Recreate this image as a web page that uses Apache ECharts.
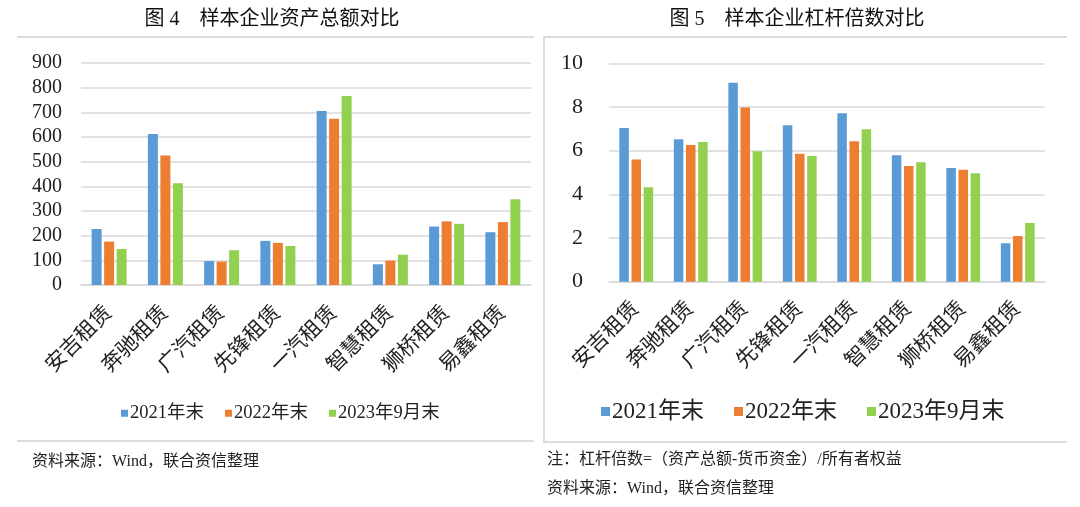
<!DOCTYPE html>
<html><head><meta charset="utf-8">
<script src="https://cdn.jsdelivr.net/npm/echarts@6/dist/echarts.min.js"></script>
<style>html,body{margin:0;padding:0;background:#fff}#c{width:1080px;height:507px}</style>
</head><body><div id="c"></div>
<script>
const categories = ['安吉租赁','奔驰租赁','广汽租赁','先锋租赁','一汽租赁','智慧租赁','狮桥租赁','易鑫租赁'];
const seriesNames = ['2021年末','2022年末','2023年9月末'];
const assets2021 = [227, 612, 97, 179, 705, 84, 237, 214];
const assets2022 = [176, 525, 95, 171, 674, 99, 258, 255];
const assets2023 = [146, 413, 141, 158, 766, 123, 248, 348];
const lev2021 = [7.04, 6.52, 9.11, 7.16, 7.71, 5.79, 5.21, 1.76];
const lev2022 = [5.60, 6.26, 7.98, 5.86, 6.43, 5.30, 5.13, 2.09];
const lev2023 = [4.32, 6.40, 5.97, 5.76, 6.98, 5.47, 4.96, 2.69];
const colors = ['#5B9BD5','#ED7D31','#92D050'];
const titles = ['图 4　样本企业资产总额对比','图 5　样本企业杠杆倍数对比'];
const footLeft = ['资料来源：Wind，联合资信整理'];
const footRight = ['注：杠杆倍数=（资产总额-货币资金）/所有者权益','资料来源：Wind，联合资信整理'];

const serif = '"Liberation Serif","DejaVu Serif","Noto Sans CJK SC",serif';
const cjk = '"Liberation Serif","Noto Sans CJK SC",serif';
const chart = echarts.init(document.getElementById('c'), null, {renderer:'canvas'});

function mkSeries(data, idx, gi, bw, gap){
  return {type:'bar', name:seriesNames[idx], xAxisIndex:gi, yAxisIndex:gi, data:data,
    barWidth:bw, barGap:gap, itemStyle:{color:colors[idx]}, silent:true, animation:false};
}
const lineStyle = {color:'#d9d9d9', width:1.5};

chart.setOption({
  animation:false,
  color:colors,
  title:[
    {text:titles[0], left:267, top:5, textAlign:'center', textStyle:{fontFamily:cjk, fontSize:20, fontWeight:'normal', color:'#111'}},
    {text:titles[1], left:792, top:5, textAlign:'center', textStyle:{fontFamily:cjk, fontSize:20, fontWeight:'normal', color:'#111'}}
  ],
  grid:[
    {left:81, right:549, top:63, bottom:222, containLabel:false},
    {left:609, right:35, top:63.3, bottom:225.3, containLabel:false}
  ],
  legend:[
    {left:116, top:399, icon:'rect', itemWidth:7, itemHeight:7, itemGap:21, selectedMode:false,
     data:seriesNames, textStyle:{fontFamily:cjk, fontSize:18.5, color:'#222', padding:[0,0,0,-3]}},
    {left:596, top:395, icon:'rect', itemWidth:9, itemHeight:9, itemGap:30, selectedMode:false,
     data:seriesNames, textStyle:{fontFamily:cjk, fontSize:23, color:'#222', padding:[0,0,0,-3]}}
  ],
  xAxis:[
    {type:'category', gridIndex:0, data:categories, axisLine:{lineStyle:lineStyle}, axisTick:{show:false},
     axisLabel:{rotate:45, interval:0, margin:25, fontFamily:cjk, fontSize:21, color:'#222'}},
    {type:'category', gridIndex:1, data:categories, axisLine:{lineStyle:lineStyle}, axisTick:{show:false},
     axisLabel:{rotate:45, interval:0, margin:24, fontFamily:cjk, fontSize:21, color:'#222'}}
  ],
  yAxis:[
    {type:'value', gridIndex:0, min:0, max:900, interval:100, axisLine:{show:false}, axisTick:{show:false},
     splitLine:{lineStyle:lineStyle}, axisLabel:{margin:19, fontFamily:serif, fontSize:20, color:'#222'}},
    {type:'value', gridIndex:1, min:0, max:10, interval:2, axisLine:{show:false}, axisTick:{show:false},
     splitLine:{lineStyle:lineStyle}, axisLabel:{margin:26, fontFamily:serif, fontSize:22, color:'#222'}}
  ],
  series:[
    mkSeries(assets2021,0,0,10,'25%'), mkSeries(assets2022,1,0,10,'25%'), mkSeries(assets2023,2,0,10,'25%'),
    mkSeries(lev2021,0,1,9.5,'28%'), mkSeries(lev2022,1,1,9.5,'28%'), mkSeries(lev2023,2,1,9.5,'28%')
  ],
  graphic:[
    {type:'line', shape:{x1:17,y1:37,x2:534,y2:37}, style:{stroke:'#dcdcdc', lineWidth:2}, silent:true},
    {type:'line', shape:{x1:17,y1:441,x2:534,y2:441}, style:{stroke:'#dcdcdc', lineWidth:2}, silent:true},
    {type:'polyline', shape:{points:[[1067,37],[544,37],[544,442],[1067,442]]}, style:{stroke:'#dcdcdc', lineWidth:2, fill:null}, silent:true},
    {type:'text', left:32, top:454, style:{text:footLeft[0], font:'16px '+cjk, fill:'#222'}},
    {type:'text', left:547, top:452, style:{text:footRight[0], font:'16px '+cjk, fill:'#222'}},
    {type:'text', left:547, top:481, style:{text:footRight[1], font:'16px '+cjk, fill:'#222'}}
  ]
});
</script></body></html>
